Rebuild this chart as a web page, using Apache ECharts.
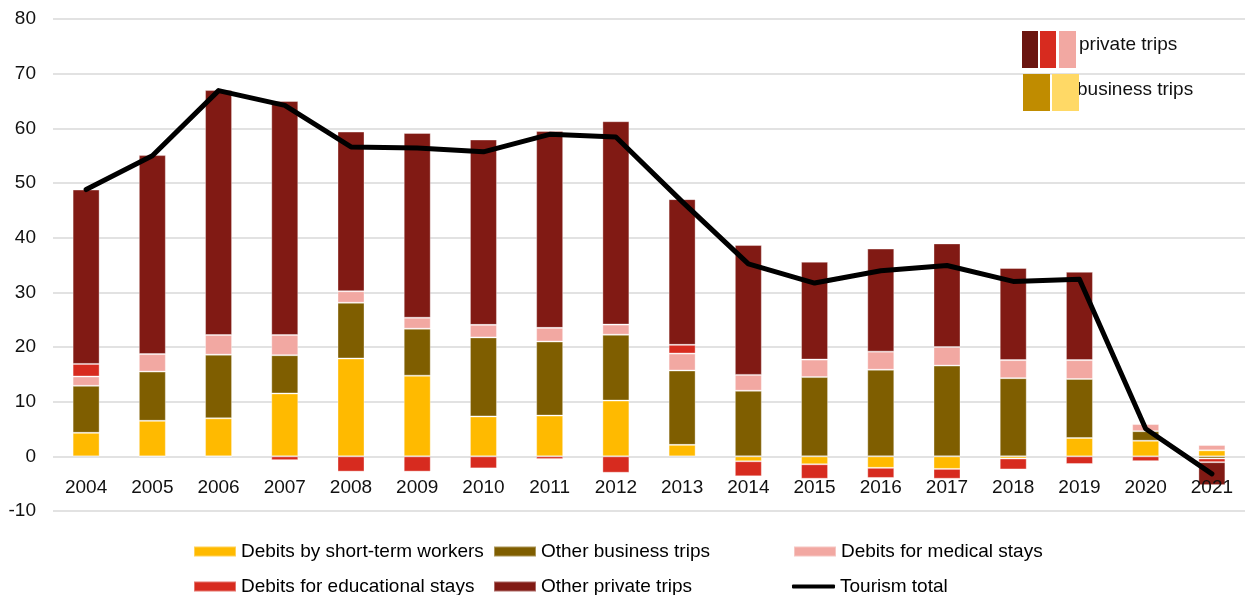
<!DOCTYPE html>
<html>
<head>
<meta charset="utf-8">
<title>Tourism debits</title>
<script src="https://cdn.jsdelivr.net/npm/echarts@6/dist/echarts.min.js"></script>
<style>
  html, body { margin: 0; padding: 0; background: #fff; }
  #chart { width: 1245px; height: 595px; }
</style>
</head>
<body>
<div id="chart"></div>
<script>
// Travel debits by component, 2004-2021
const years = ['2004','2005','2006','2007','2008','2009','2010','2011','2012','2013','2014','2015','2016','2017','2018','2019','2020','2021'];

const shortTermWorkers = [4.3, 6.5, 6.95, 11.5, 17.9, 14.75, 7.3, 7.45, 10.2, 2.1, -0.9, -1.45, -2.1, -2.3, -0.4, 3.35, 2.85, 1.1];
const otherBusiness    = [8.6, 9.0, 11.65, 7.0, 10.2, 8.6, 14.45, 13.55, 12.05, 13.6, 12.0, 14.5, 15.85, 16.6, 14.3, 10.8, 1.75, -0.4];
const medicalStays     = [1.7, 3.2, 3.6, 3.7, 2.1, 2.0, 2.3, 2.5, 1.85, 3.1, 2.9, 3.2, 3.3, 3.4, 3.3, 3.45, 1.3, 0.97];
const educationalStays = [2.3, -0.1, -0.1, -0.7, -2.8, -2.8, -2.2, -0.5, -3.0, 1.6, -2.75, -2.65, -1.85, -1.8, -2.0, -1.4, -0.9, -0.67];
const otherPrivate     = [31.9, 36.4, 44.8, 42.8, 29.2, 33.8, 33.9, 36.0, 37.2, 26.65, 23.75, 17.9, 18.85, 18.95, 16.85, 16.15, 0, -4.2];
const tourismTotal     = [48.8, 55.0, 66.9, 64.2, 56.6, 56.4, 55.7, 58.9, 58.4, 46.6, 35.2, 31.7, 33.95, 34.9, 32.0, 32.4, 5.05, -3.2];

const FONT = '"Liberation Sans", Arial, sans-serif';
const colors = {
  shortTerm: '#FFBA00',
  business: '#7F5E00',
  medical: '#F2A8A2',
  educational: '#D72B1F',
  private: '#811A14'
};

const chart = echarts.init(document.getElementById('chart'), null, { renderer: 'canvas' });

function barSeries(name, data, color) {
  return {
    name: name,
    type: 'bar',
    stack: 'debits',
    data: data,
    barWidth: 27,
    itemStyle: { color: color, borderColor: 'rgba(255,255,255,0.35)', borderWidth: 1 },
    emphasis: { disabled: true }
  };
}

// one legend block per entry so the three columns line up
function legendEntry(name, left, top, extra) {
  return Object.assign({
    orient: 'horizontal',
    left: left,
    top: top,
    padding: 0,
    icon: 'rect',
    itemWidth: 42,
    itemHeight: 10,
    selectedMode: false,
    textStyle: { fontFamily: FONT, fontSize: 19, color: '#000' },
    data: [name]
  }, extra || {});
}

chart.setOption({
  animation: false,
  backgroundColor: '#fff',
  grid: { left: 53, right: 0, top: 19, bottom: 84, containLabel: false },
  xAxis: {
    type: 'category',
    data: years,
    offset: -54.7,
    z: 4,
    axisLine: { show: false, onZero: false },
    axisTick: { show: false },
    axisLabel: { fontFamily: FONT, fontSize: 19, color: '#111', margin: 22 }
  },
  yAxis: {
    type: 'value',
    min: -10,
    max: 80,
    interval: 10,
    axisLine: { show: false },
    axisTick: { show: false },
    splitLine: { lineStyle: { color: '#D9D9D9', width: 1.5 } },
    axisLabel: { fontFamily: FONT, fontSize: 19, color: '#111', margin: 17 }
  },
  legend: [
    legendEntry('Debits by short-term workers', 193, 542),
    legendEntry('Debits for educational stays', 193, 577),
    legendEntry('Other business trips', 493, 542),
    legendEntry('Other private trips', 493, 577),
    legendEntry('Debits for medical stays', 793, 542),
    legendEntry({ name: 'Tourism total', icon: 'roundRect' }, 792, 577, { itemWidth: 43, itemHeight: 4 })
  ],
  series: [
    barSeries('Debits by short-term workers', shortTermWorkers, colors.shortTerm),
    barSeries('Other business trips', otherBusiness, colors.business),
    barSeries('Debits for medical stays', medicalStays, colors.medical),
    barSeries('Debits for educational stays', educationalStays, colors.educational),
    barSeries('Other private trips', otherPrivate, colors.private),
    {
      name: 'Tourism total',
      type: 'line',
      data: tourismTotal,
      symbol: 'none',
      z: 5,
      lineStyle: { color: '#000', width: 5, cap: 'round', join: 'round' },
      itemStyle: { color: '#000' },
      emphasis: { disabled: true }
    }
  ],
  graphic: [
    // group key: private trips
    { type: 'rect', shape: { x: 1022, y: 31, width: 16, height: 37 }, style: { fill: '#6B1510' }, z: 10 },
    { type: 'rect', shape: { x: 1040, y: 31, width: 16, height: 37 }, style: { fill: '#D72B1F' }, z: 10 },
    { type: 'rect', shape: { x: 1059, y: 31, width: 17, height: 37 }, style: { fill: '#F2A8A2' }, z: 10 },
    { type: 'text', left: 1079, top: 35, style: { text: 'private trips', font: '19px ' + FONT, fill: '#111' }, z: 9 },
    // group key: business trips
    { type: 'rect', shape: { x: 1023, y: 74, width: 27, height: 37 }, style: { fill: '#C08C00' }, z: 10 },
    { type: 'rect', shape: { x: 1052, y: 74, width: 27, height: 37 }, style: { fill: '#FFD966' }, z: 10 },
    { type: 'text', left: 1077, top: 80, style: { text: 'business trips', font: '19px ' + FONT, fill: '#111' }, z: 9 }
  ]
});
</script>
</body>
</html>
